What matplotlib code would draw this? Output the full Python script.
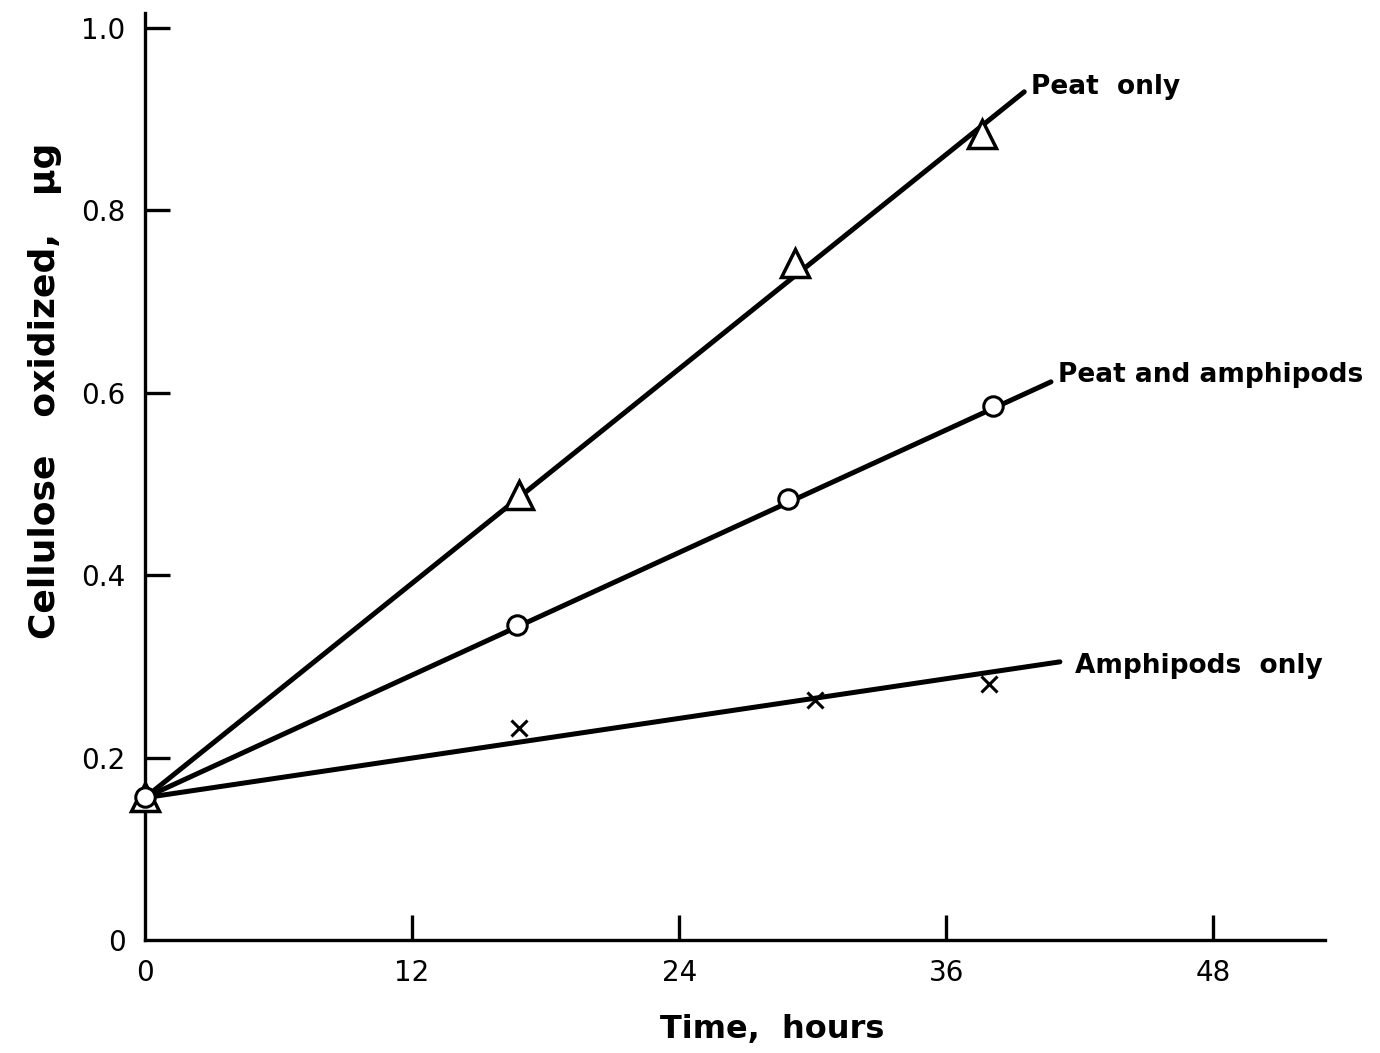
import matplotlib
matplotlib.use("Agg")
import matplotlib.pyplot as plt

# data (time in hours, cellulose oxidized in ug)
peat_x = [0, 16.8, 29.2, 37.6]
peat_y = [0.157, 0.488, 0.742, 0.884]
mix_x = [0, 16.7, 28.9, 38.1]
mix_y = [0.157, 0.345, 0.483, 0.585]
amph_x = [16.8, 30.1, 37.9]
amph_y = [0.232, 0.263, 0.281]

# fitted lines (start and end)
peat_line_x = [0, 39.5]
peat_line_y = [0.156, 0.930]
mix_line_x = [0, 40.7]
mix_line_y = [0.156, 0.612]
amph_line_x = [0, 41.1]
amph_line_y = [0.156, 0.305]

xticks = [0, 12, 24, 36, 48]
yticks = [0, 0.2, 0.4, 0.6, 0.8, 1.0]
ytick_labels = ["0", "0.2", "0.4", "0.6", "0.8", "1.0"]

plt.rcParams["font.family"] = ["DejaVu Sans"]

fig = plt.figure(figsize=(13.8, 10.53), dpi=100)
ax = fig.add_axes([0.105, 0.1073, 0.855, 0.880])

lw = 3.6
ax.plot(peat_line_x, peat_line_y, color="black", lw=lw, solid_capstyle="round")
ax.plot(mix_line_x, mix_line_y, color="black", lw=lw, solid_capstyle="round")
ax.plot(amph_line_x, amph_line_y, color="black", lw=lw, solid_capstyle="round")

ax.plot(peat_x, peat_y, ls="none", marker="^", ms=20, mfc="white", mec="black",
        mew=2.5, clip_on=False, zorder=3)
ax.plot(mix_x, mix_y, ls="none", marker="o", ms=14, mfc="white", mec="black",
        mew=2.2, clip_on=False, zorder=3)
ax.plot(amph_x, amph_y, ls="none", marker="x", ms=11, color="black",
        mew=2.2, clip_on=False, zorder=3)

ax.text(39.8, 0.935, "Peat  only", fontsize=19, fontweight="bold", va="center")
ax.text(41.0, 0.62, "Peat and amphipods", fontsize=19, fontweight="bold", va="center")
ax.text(41.8, 0.30, "Amphipods  only", fontsize=19, fontweight="bold", va="center")

ax.set_xlim(0, 53.0)
ax.set_ylim(0, 1.016)
ax.set_xticks(xticks)
ax.set_xticklabels([str(t) for t in xticks])
ax.set_yticks(yticks)
ax.set_yticklabels(ytick_labels)

for s in ["top", "right"]:
    ax.spines[s].set_visible(False)
for s in ["left", "bottom"]:
    ax.spines[s].set_linewidth(2.4)

ax.tick_params(axis="both", direction="in", length=18, width=2.4,
               labelsize=20, pad=14)
ax.xaxis.get_major_ticks()[0].tick1line.set_visible(False)
ax.yaxis.get_major_ticks()[0].tick1line.set_visible(False)

ax.set_xlabel("Time,  hours", fontsize=23, fontweight="bold")
ax.set_ylabel("Cellulose   oxidized,   \u03bcg", fontsize=26, fontweight="bold")
ax.xaxis.set_label_coords(0.532, -0.080)
ax.yaxis.set_label_coords(-0.070, 0.593)

fig.savefig("out.png", dpi=100)
